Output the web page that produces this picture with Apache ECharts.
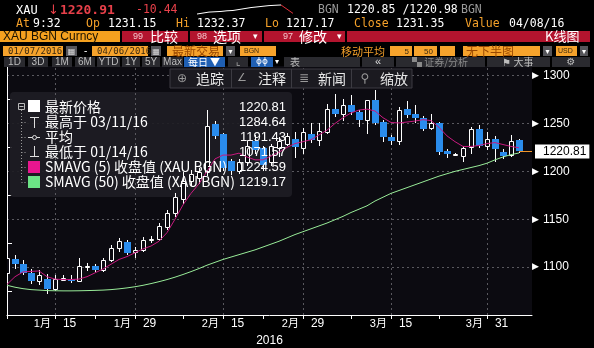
<!DOCTYPE html>
<html><head><meta charset="utf-8">
<script src="https://cdn.jsdelivr.net/npm/echarts@6/dist/echarts.min.js"></script>
<style>html,body{margin:0;padding:0;background:#000;overflow:hidden}#c{width:594px;height:348px}</style>
</head><body><div id="c"></div>
<script>
const dates = ['1/7','1/8','1/11','1/12','1/13','1/14','1/15','1/18','1/19','1/20','1/21','1/22','1/25','1/26','1/27','1/28','1/29',
'2/1','2/2','2/3','2/4','2/5','2/8','2/9','2/10','2/11','2/12','2/15','2/16','2/17','2/18','2/19','2/22','2/23','2/24','2/25','2/26','2/29',
'3/1','3/2','3/3','3/4','3/7','3/8','3/9','3/10','3/11','3/14','3/15','3/16','3/17','3/18','3/21','3/22','3/23','3/24','3/25','3/28','3/29','3/30','3/31',
'4/1','4/4','4/5','4/6'];
const opens = [1094,1108,1103,1094,1085,1088,1077,1087,1088,1086,
1100,1101,1097,1107,1120,1126,1116,1118,1128,1129,
1142,1156,1171,1190,1193,1199,1249,1239,1211,1200,
1210,1232,1224,1210,1224,1229,1234,1224,1239,1233,
1241,1265,1260,1269,1262,1254,1274,1252,1236,1232,
1265,1260,1256,1245,1250,1221,1218,1216,1225,1244,
1226,1234,1220,1217,1233];
const closes = [1109,1103,1094,1085,1092,1077,1088,1089,1085,1101,
1101,1097,1107,1120,1127,1115,1118,1128,1129.5,1143,
1157,1173,1190,1197,1199,1247,1237,1203,1200,1210,
1226,1222,1207,1226,1232,1237,1225,1241,1233,1242,
1265,1260,1269,1262,1254,1274,1250,1236,1232,1264,
1258.5,1256,1244,1250,1220,1218,1218.5,1224,1244,1226,
1234,1223,1216,1232,1220.81];
const highs = [1111,1113,1107,1098,1097,1093,1092,1092,1092,1109,
1104,1103,1109,1123,1130,1128,1121,1131,1132,1146,
1160,1177,1199,1201,1203,1264,1253,1240,1213,1213,
1232,1238,1226,1229,1236,1240,1241,1245,1250,1250,
1270,1281,1276,1280,1264,1275,1284.64,1254,1238,1267,
1273,1269,1258,1260,1252,1223,1219,1226,1246,1248,
1241,1237,1223,1238,1234];
const lows = [1092,1098,1092,1082,1081,1071.57,1075,1086,1083,1084,
1096,1095,1095,1105,1116,1113,1109,1116,1125,1127,
1139,1152,1166,1185,1187,1195,1234,1200,1196,1197,
1206,1218,1200,1206,1215,1226,1214,1218,1230,1226,
1239,1257,1253,1259,1246,1239,1248,1231,1228,1228,
1256,1250,1242,1243,1217,1214,1217.5,1210,1218,1224,
1222,1210,1213,1215,1219];
const sma5 = [1082,1090,1095,1095.5,1096,1090,1087.5,1087,1087,1087.5,
1090,1094,1098,1103,1108,1111,1115,1119,1122,1127,
1136,1150,1165,1177,1187,1200,1213,1217,1217,1219,
1215,1212,1212,1216,1220,1225,1229,1231,1233,1238,
1243,1250,1256,1261,1264,1265,1263,1256,1251,1250.5,
1251.5,1252.5,1254,1253,1246,1237,1231,1226,1226,1227,
1229,1230,1228,1226,1224.59];
const sma50 = [1081,1079,1077.5,1076.5,1076,1075.5,1075.3,1075.2,1075.2,1075.3,
1075.5,1075.7,1076,1076.5,1077.3,1078.3,1079.5,1081,1082.8,1084.8,
1087,1089.5,1092.3,1095.3,1098.5,1102,1105,1108,1110.5,1113,
1115.5,1118,1121,1124,1127,1130.5,1134,1137,1140,1143,
1146,1149.5,1153,1157,1160.5,1164,1169,1173,1177,1180,
1183,1186,1189,1192,1195,1197.5,1200,1202,1204,1206,
1208.5,1212,1215,1217.5,1219.17];
const labelDates = ['1/15','1/29','2/15','2/29','3/15','3/31'];
const labelTexts = ['1月 15','1月 29','2月 15','2月 29','3月 15','3月 31'];
const tickDates = ['1/7','1/15','1/22','1/29','2/8','2/15','2/22','2/29','3/8','3/15','3/23','3/31'];
const yearLabel = '2016';
const yMin = 1050, yMax = 1310, yStep = 50;
const sparkValues = [1217.5,1219,1220.5,1221,1221.5,1222.5,1223,1224.5,1226,1227.5,1228.5,1229.5,1230.5,1231,1231.5,1225,1218.5];
const sparkSplit = 14;
const legendNames = ['最新价格','最高于 03/11/16','平均','最低于 01/14/16','SMAVG (5) 收盘值 (XAU BGN)','SMAVG (50) 收盘值 (XAU BGN)'];
const legendValues = ['1220.81','1284.64','1191.43','1071.57','1224.59','1219.17'];

const BLUE = '#2a8cec', PLOT_BG = '#0c0b11', ORANGE = '#f5a12a', RED = '#e8404a', CRIMSON = '#b3142e';
const MONO = '"DejaVu Sans Mono", monospace';
const SANS = '"Liberation Sans", "Noto Sans CJK SC", sans-serif';
const CJK = '"Noto Sans CJK SC", "Liberation Sans", sans-serif';
const idx = d => dates.indexOf(d);
const xMax = 65.625;
const lastI = dates.length - 1;

const G = [];
function T(x, y, text, fill, font, align, z) {
  G.push({type:'text', z: z || 20, style:{x:x, y:y, text:text, fill:fill, font:font, textAlign:align||'left', textVerticalAlign:'middle', verticalAlign:'middle'}});
}
function R(x, y, w, h, fill, extra) {
  G.push(Object.assign({type:'rect', z:18, shape:{x:x, y:y, width:w, height:h}, style:{fill:fill}}, extra||{}));
}
function L(x1, y1, x2, y2, stroke, dash, z) {
  G.push({type:'line', z: z || 20, shape:{x1:x1,y1:y1,x2:x2,y2:y2}, style:{stroke:stroke, lineWidth:1, lineDash: dash || null}});
}
// Row 1
T(16, 10.5, 'XAU', '#fff', '12px ' + MONO);
T(48, 10.5, '↓', RED, '13px "DejaVu Sans"');
T(60, 10.5, '1220.91', RED, 'bold 13px ' + MONO);
T(136, 10.5, '-10.44', RED, '11.5px ' + MONO);
T(318, 10.5, 'BGN', '#9a9a9a', '11.5px ' + MONO);
T(347, 10.5, '1220.85 /1220.98', '#fff', '11.5px ' + MONO);
T(461, 10.5, 'BGN', '#9a9a9a', '11.5px ' + MONO);
// Row 2
[['At',16,ORANGE],['9:32',33,'#fff'],['Op',86,ORANGE],['1231.15',108,'#fff'],['Hi',176,ORANGE],['1232.37',197,'#fff'],
 ['Lo',265,ORANGE],['1217.17',286,'#fff'],['Close',354,ORANGE],['1231.35',396,'#fff'],['Value',465,ORANGE],['04/08/16',509,'#fff']]
 .forEach(a => T(a[1], 24.5, a[0], a[2], '11.5px ' + MONO));
// Row 3
R(0, 31, 120, 11, '#f5a11f');
T(3, 36.5, 'XAU BGN Curncy', '#1a1200', '12px ' + SANS);
R(122, 31, 66, 11, CRIMSON); R(190, 31, 72, 11, CRIMSON); R(264, 31, 81, 11, CRIMSON); R(347, 31, 243, 11, CRIMSON);
T(133, 36.5, '99', '#f4c6cc', '9px ' + SANS); T(150, 36.5, '比较', '#fff', '14px ' + CJK);
T(197, 36.5, '98', '#f4c6cc', '9px ' + SANS); T(213, 36.5, '选项', '#fff', '14px ' + CJK); T(253, 36.5, '▾', '#fff', '9px "DejaVu Sans"');
T(283, 36.5, '97', '#f4c6cc', '9px ' + SANS); T(299, 36.5, '修改', '#fff', '14px ' + CJK); T(337, 36.5, '▾', '#fff', '9px "DejaVu Sans"');
T(545, 36.5, 'K线图', '#fff', '13px ' + CJK);
// Row 4
const OB = '#f6a32c', DK = '#3b2a10', BR = '#9a4800', GB = '#55555a';
R(3, 46, 60, 10, OB); T(8, 51.5, '01/07/2016', DK, '9px ' + MONO);
R(66, 46, 11, 10, GB); T(71.5, 51.5, '▦', '#ddd', '8px "DejaVu Sans"', 'center');
T(84, 51.5, '-', '#fff', '10px ' + SANS);
R(92, 46, 56, 10, OB); T(97, 51.5, '04/06/2016', DK, '9px ' + MONO);
R(151, 46, 10, 10, GB); T(156, 51.5, '▦', '#ddd', '8px "DejaVu Sans"', 'center');
R(167, 46, 56, 10, OB); T(172, 51.5, '最新交易', BR, '12px ' + CJK);
R(226, 46, 9, 10, GB); T(230.5, 51.5, '▾', '#fff', '8px "DejaVu Sans"', 'center');
R(240, 46, 36, 10, OB); T(244, 51.5, 'BGN', DK, '7px ' + SANS);
T(341, 51.5, '移动平均', ORANGE, '11px ' + CJK);
R(390, 46, 22, 10, OB); T(409, 51.5, '5', DK, '8px ' + SANS, 'right');
R(414, 46, 23, 10, OB); T(433, 51.5, '50', DK, '8px ' + SANS, 'right');
R(440, 46, 15, 10, OB);
R(463, 46, 77, 10, OB); T(466, 51.5, '无下半图', BR, '12px ' + CJK);
R(543, 46, 9, 10, GB); T(547.5, 51.5, '▾', '#fff', '8px "DejaVu Sans"', 'center');
R(556, 46, 21, 10, OB); T(558, 51.5, 'USD', DK, '7px ' + SANS);
R(580, 46, 8, 10, GB); T(584, 51.5, '▾', '#fff', '8px "DejaVu Sans"', 'center');
// Row 5
const TB = '#2a2a2f';
[[4,21,'1D'],[28,20,'3D'],[52,20,'1M'],[75,20,'6M'],[97,23,'YTD'],[122,18,'1Y'],[142,18,'5Y'],[162,21,'Max']].forEach(b => {
  R(b[0], 57, b[1], 10, TB); T(b[0] + b[1]/2, 62, b[2], '#bdbdbd', '10px ' + SANS, 'center');
});
R(184, 57, 41, 10, '#1f5fb3'); T(204, 62, '每日 ▼', '#fff', '10px ' + CJK, 'center');
R(228, 57, 20, 10, TB); T(238, 62, '⌞', '#aaa', '10px "DejaVu Sans"', 'center');
R(251, 57, 22, 10, '#1f5fb3'); T(262, 62, 'ϕϕ', '#fff', '9px "DejaVu Sans"', 'center');
T(277, 62, '▾', '#fff', '8px "DejaVu Sans"', 'center');
R(284, 57, 76, 10, TB); T(290, 62, '表', '#bdbdbd', '10px ' + CJK);
R(362, 57, 32, 10, TB); T(378, 62, '«', '#ddd', '11px ' + SANS, 'center');
R(396, 57, 89, 10, TB); T(440, 62, '▚ 证券/分析', '#8a8a8a', '10px ' + CJK, 'center');
R(487, 57, 63, 10, TB); T(518, 62, '⚑ 大事', '#bdbdbd', '10px ' + CJK, 'center');
R(552, 57, 38, 10, TB); T(571, 62, '⚙', '#bdbdbd', '10px "DejaVu Sans"', 'center');
// Plot buttons
R(170, 69, 242, 19, '#1b1a20', {z:22, style:{fill:'#1b1a20', stroke:'#3c3b42', lineWidth:1}});
L(231.5, 69, 231.5, 88, '#3c3b42', null, 23); L(291.5, 69, 291.5, 88, '#3c3b42', null, 23); L(351.5, 69, 351.5, 88, '#3c3b42', null, 23);
T(182, 78.5, '⊕', '#9a9a9a', '12px "DejaVu Sans"', 'center', 24); T(196, 78.5, '追踪', '#e8e8e8', '14px ' + CJK, 'left', 24);
T(242, 78.5, '∠', '#9a9a9a', '11px "DejaVu Sans"', 'center', 24); T(258, 78.5, '注释', '#e8e8e8', '14px ' + CJK, 'left', 24);
T(304, 78.5, '≣', '#9a9a9a', '12px "DejaVu Sans"', 'center', 24); T(318, 78.5, '新闻', '#e8e8e8', '14px ' + CJK, 'left', 24);
T(365, 78.5, '⚲', '#9a9a9a', '12px "DejaVu Sans"', 'center', 24); T(380, 78.5, '缩放', '#e8e8e8', '14px ' + CJK, 'left', 24);
// Legend box
G.push({type:'rect', z:1, shape:{x:10, y:92, width:282, height:105, r:4}, style:{fill:'rgba(30,29,36,0.92)'}});
G.push({type:'rect', z:20, shape:{x:18.5, y:103.5, width:6, height:6}, style:{fill:'none', stroke:'#bbb', lineWidth:1}});
L(19.5, 106.5, 23.5, 106.5, '#bbb');
L(21.5, 110, 21.5, 182, '#999', [1,2]);
[122,137,152,167,182].forEach(y => L(21.5, y + 0.5, 27, y + 0.5, '#999', [1,2]));
R(28, 100, 12, 12, '#fff', {z:20});
L(34.5, 117, 34.5, 128, '#ddd'); L(30, 117.5, 39, 117.5, '#ddd');
L(28, 137.5, 40, 137.5, '#ddd');
G.push({type:'circle', z:21, shape:{cx:34.5, cy:137.5, r:2}, style:{fill:'#1e1d24', stroke:'#ddd', lineWidth:1}});
L(34.5, 146, 34.5, 157, '#ddd'); L(30, 156.5, 39, 156.5, '#ddd');
R(28, 161, 12, 12, '#e8168f', {z:20});
R(28, 176, 12, 12, '#6ce486', {z:20});
legendNames.forEach((n, k) => {
  T(45, 107 + 15 * k, n, '#fff', '14px ' + CJK);
  T(286, 107 + 15 * k, legendValues[k], '#fff', '13px ' + SANS, 'right');
});

const candleData = dates.map((d, i) => [i, opens[i], closes[i], lows[i], highs[i]]);
const labelIdx = labelDates.map(idx);
const tagLabel = (bg, fg, txt, z) => ({show:true, position:'end', distance:3, formatter:txt, backgroundColor:bg, color:fg,
  padding:[1,3,1,8], fontSize:12, lineHeight:12, fontFamily:'Liberation Sans'});

const option = {
  backgroundColor: '#000',
  animation: false,
  grid: [
    {left:7, top:66, width:525, height:249, show:true, backgroundColor:PLOT_BG, borderWidth:0, outerBoundsMode:'none', containLabel:false},
    {left:197, top:4, width:96, height:11, show:false, outerBoundsMode:'none', containLabel:false}
  ],
  xAxis: [
    {type:'value', gridIndex:0, min:0, max:xMax,
      axisLine:{show:true, lineStyle:{color:'#fff', width:1}},
      axisTick:{show:true, customValues:tickDates.map(idx), length:4, lineStyle:{color:'#fff'}},
      axisLabel:{show:true, customValues:labelIdx, margin:3, color:'#fff',
        formatter: v => { const k = labelIdx.indexOf(Math.round(v)); if (k < 0) return ''; const p = labelTexts[k].split(' '); return '{m|' + p[0] + '}{g| }{d|' + p[1] + '}'; },
        rich:{m:{color:'#fff', fontSize:11, fontFamily:SANS}, g:{width:12, fontSize:11}, d:{color:'#fff', fontSize:12, fontFamily:SANS}}},
      splitLine:{show:false},
      name:yearLabel, nameLocation:'middle', nameGap:17, nameTextStyle:{color:'#fff', fontSize:12, fontFamily:SANS}
    },
    {type:'value', gridIndex:1, min:0, max:sparkValues.length - 1, show:false}
  ],
  yAxis: [
    {type:'value', gridIndex:0, position:'right', min:yMin, max:yMax, interval:yStep,
      axisLine:{show:true, lineStyle:{color:'#fff', width:1}},
      axisTick:{show:false},
      minorTick:{show:true, splitNumber:2, length:5, lineStyle:{color:'#fff'}},
      minorSplitLine:{show:false},
      axisLabel:{margin:0, showMinLabel:false, showMaxLabel:false,
        formatter: v => (v >= 1100 && v <= 1300 && v % 50 === 0) ? '{a|▶}{v|' + v + '}' : '',
        rich:{a:{color:'#fff', fontSize:9, width:11, fontFamily:'DejaVu Sans'}, v:{color:'#fff', fontSize:12, fontFamily:SANS}}},
      splitLine:{show:true, showMinLine:false, showMaxLine:false, lineStyle:{color:'#5a595f', type:[2,3], width:1}}
    },
    {type:'value', gridIndex:1, min:1216, max:1233, show:false}
  ],
  series: [
    {type:'custom', name:'XAU', xAxisIndex:0, yAxisIndex:0, clip:true, z:3,
      data:candleData, encode:{x:0, y:[1,2,3,4]},
      renderItem: (params, api) => {
        const i = api.value(0), o = api.value(1), c = api.value(2), l = api.value(3), h = api.value(4);
        const pO = api.coord([i, o]), pC = api.coord([i, c]), pH = api.coord([i, h]), pL = api.coord([i, l]);
        const cx = Math.round(pO[0]);
        const up = c >= o;
        const top = Math.min(pO[1], pC[1]), bot = Math.max(pO[1], pC[1]);
        const ch = [{type:'line', shape:{x1:cx + 0.5, y1:Math.round(pH[1]), x2:cx + 0.5, y2:Math.round(pL[1])}, style:{stroke:'#fff', lineWidth:1}}];
        if (up) {
          const t = Math.round(top) + 0.5, b = Math.max(Math.round(bot) + 0.5, t + 1);
          ch.push({type:'rect', shape:{x:cx - 1.5, y:t, width:4, height:b - t}, style:{fill:PLOT_BG, stroke:'#fff', lineWidth:1}});
        } else {
          const t = Math.round(top), b = Math.max(Math.round(bot), t + 2);
          ch.push({type:'rect', shape:{x:cx - 3, y:t, width:7, height:b - t}, style:{fill:BLUE}});
        }
        return {type:'group', children:ch};
      }
    },
    {type:'line', name:'SMA50', xAxisIndex:0, yAxisIndex:0, z:4, clip:false,
      data:dates.map((d, i) => [i, sma50[i]]), showSymbol:false, lineStyle:{color:'#98eb98', width:1},
      markLine:{silent:true, symbol:['none','none'], z:1, animation:false,
        data:[
          ...labelIdx.map(v => ({xAxis:v, lineStyle:{color:'#5a595f', type:[2,3], width:1}, label:{show:false}})),
          [{coord:[lastI, sma50[lastI]], lineStyle:{opacity:0}, label:tagLabel('#6ce486', '#6ce486', String(sma50[lastI]))}, {coord:[xMax, sma50[lastI]]}]
        ]}
    },
    {type:'line', name:'SMA5', xAxisIndex:0, yAxisIndex:0, z:5, clip:false,
      data:dates.map((d, i) => [i, sma5[i]]), showSymbol:false, lineStyle:{color:'#c8197f', width:1},
      markLine:{silent:true, symbol:['none','none'], z:6, animation:false,
        data:[[{coord:[lastI, sma5[lastI]], lineStyle:{opacity:0}, label:tagLabel('#e8168f', '#e8168f', String(sma5[lastI]))}, {coord:[xMax, sma5[lastI]]}]]}
    },
    {type:'line', name:'last', xAxisIndex:0, yAxisIndex:0, z:7, clip:false,
      data:[[lastI, closes[lastI]]], showSymbol:false, lineStyle:{opacity:0},
      markLine:{silent:true, symbol:['none','none'], z:8, animation:false,
        data:[[{coord:[lastI, closes[lastI]], lineStyle:{color:'#f0962a', width:1, type:'solid'}, label:tagLabel('#ffffff', '#000000', closes[lastI].toFixed(2))}, {coord:[xMax, closes[lastI]]}]]}
    },
    {type:'line', xAxisIndex:1, yAxisIndex:1, showSymbol:false, silent:true,
      data:sparkValues.slice(0, sparkSplit + 1).map((v, i) => [i, v]), lineStyle:{color:'#fff', width:1}},
    {type:'line', xAxisIndex:1, yAxisIndex:1, showSymbol:false, silent:true,
      data:sparkValues.slice(sparkSplit).map((v, j) => [sparkSplit + j, v]), lineStyle:{color:'#e0303a', width:1}}
  ],
  graphic: G
};
const chart = echarts.init(document.getElementById('c'), null, {renderer:'canvas', width:594, height:348});
chart.setOption(option);
</script></body></html>
